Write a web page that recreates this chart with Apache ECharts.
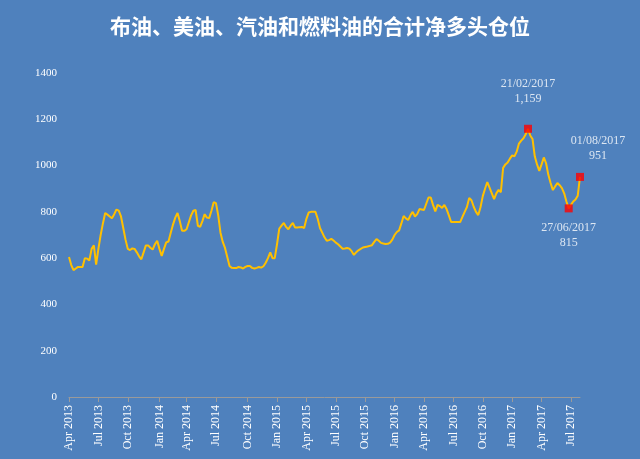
<!DOCTYPE html>
<html><head><meta charset="utf-8">
<script src="https://cdn.jsdelivr.net/npm/echarts@6/dist/echarts.min.js"></script>
<style>html,body{margin:0;padding:0;background:#4F81BD}#c{width:640px;height:459px}</style>
</head><body><div id="c"></div>
<script>
const startDate = '2013-04-02';
const weekCount = 227;
const values = [605,570,548,555,562,562,562,600,598,590,640,655,572,640,700,750,795,788,780,772,
790,810,805,780,730,680,640,635,642,640,625,608,595,625,655,655,645,637,660,675,
640,610,640,668,672,710,745,775,795,760,718,718,725,755,785,805,808,740,735,760,
790,775,773,805,842,838,785,710,670,644,605,566,558,557,557,562,560,555,562,566,
566,558,555,558,562,559,565,580,600,625,600,600,660,728,740,752,735,725,740,752,
732,732,734,735,730,770,797,800,800,800,770,730,710,690,675,678,683,676,667,660,
650,641,642,644,641,630,614,625,634,640,646,648,650,653,656,670,682,675,666,663,
661,662,667,680,700,713,720,750,782,772,765,785,800,780,790,812,810,808,835,862,
862,830,802,830,825,817,830,812,785,756,756,756,756,756,778,800,821,860,850,822,
800,786,820,868,900,929,905,880,855,880,895,885,990,1005,1013,1030,1044,1040,1060,1095,
1108,1118,1135,1159,1130,1115,1040,1005,977,1005,1035,1010,960,925,894,910,925,915,903,880,
845,815,830,845,853,870,951];
const highlightDates = ['2017-02-21','2017-06-27','2017-08-01'];
const highlightLabels = ['21/02/2017\n1,159','27/06/2017\n815','01/08/2017\n951'];
const months = ['Jan','Feb','Mar','Apr','May','Jun','Jul','Aug','Sep','Oct','Nov','Dec'];

const categories = [];
const d0 = new Date(startDate + 'T00:00:00Z');
for (let i = 0; i < weekCount; i++) {
  const d = new Date(d0.getTime() + i * 7 * 86400000);
  categories.push(d.toISOString().slice(0,10));
}
function isQuarterStart(c){ const d=new Date(c+'T00:00:00Z'); return d.getUTCMonth()%3===0 && d.getUTCDate()<=7; }
const positions = ['top','bottom','top'];
const scatterData = highlightDates.map((dt,i)=>({
  value:[dt, values[categories.indexOf(dt)]],
  label:{show:true, formatter:highlightLabels[i], position:positions[i], distance: i===0?18:(i===1?8:10),
    offset: i===2?[18,0]:[0,0], color:'#fff', fontFamily:'Liberation Serif', fontSize:12, lineHeight:15}
}));
const chart = echarts.init(document.getElementById('c'));
chart.setOption({
  backgroundColor:'#4F81BD',
  animation:false,
  title:{text:'布油、美油、汽油和燃料油的合计净多头仓位', left:'center', top:11,
    textStyle:{color:'#fff', fontSize:21, fontWeight:'bold', fontFamily:'Noto Sans CJK SC'}},
  grid:{left:69, right:60, top:73, bottom:62},
  xAxis:{type:'category', data:categories, boundaryGap:false,
    axisLine:{lineStyle:{color:'#9a9a9a'}},
    axisTick:{interval:(i,c)=>isQuarterStart(c), lineStyle:{color:'#9a9a9a'}},
    axisLabel:{interval:(i,c)=>isQuarterStart(c), rotate:90, color:'#fff', fontFamily:'Liberation Serif', fontSize:12,
      formatter:c=>{const d=new Date(c+'T00:00:00Z'); return months[d.getUTCMonth()]+' '+d.getUTCFullYear();}}},
  yAxis:{type:'value', min:0, max:1400, interval:200,
    axisLine:{show:false}, axisTick:{show:false}, splitLine:{show:false},
    axisLabel:{color:'#fff', fontFamily:'Liberation Serif', fontSize:11, margin:12, formatter:v=>String(v)}},
  series:[
    {type:'line', data:values, symbol:'none', lineStyle:{color:'#FFC000', width:2}, z:2},
    {type:'scatter', data:scatterData, symbol:'rect', symbolSize:8, itemStyle:{color:'#FF0000'}, z:3}
  ]
});
</script></body></html>
